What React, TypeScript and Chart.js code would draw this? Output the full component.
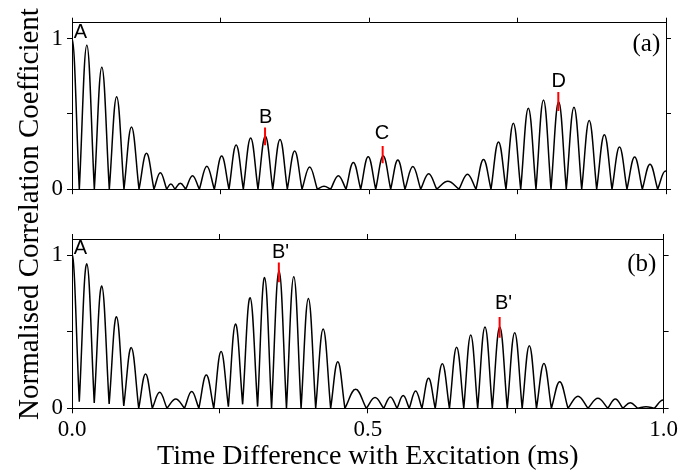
import React, { useEffect, useRef } from "react";
import { Chart, registerables } from "chart.js";

Chart.register(...registerables);

// ---------- axes ----------
const X_TICKS = [0, 0.25, 0.5, 0.75, 1.0];
const X_TICK_LABELS = ["0.0", "", "0.5", "", "1.0"];
const Y_TICKS = [0, 0.5, 1];
const Y_TICK_LABELS = ["0", "", "1"];
const X_TITLE = "Time Difference with Excitation (ms)";
const Y_TITLE = "Normalised Correlation Coefficient";

// ---------- panel (a) ----------
// zero crossings (ms) bounding each lobe
const zerosA = [
  -0.0123, 0.0123, 0.0376, 0.0628, 0.0875, 0.1128, 0.138, 0.1594, 0.1734, 0.1914,
  0.2144, 0.2396, 0.2643, 0.2884, 0.3131, 0.3379, 0.3625, 0.3872, 0.413, 0.4355,
  0.4613, 0.486, 0.5113, 0.5365, 0.5606, 0.587, 0.614, 0.6515, 0.6801, 0.7054,
  0.7306, 0.7554, 0.7811, 0.8064, 0.8321, 0.8581, 0.8833, 0.9091, 0.9343, 0.9601,
  0.986, 1.012,
];
// peak height of each lobe
const peaksA = [
  1.0, 0.956, 0.81, 0.614, 0.413, 0.238, 0.109, 0.035, 0.039, 0.09,
  0.153, 0.22, 0.293, 0.34, 0.352, 0.33, 0.253, 0.148, 0.02, 0.09,
  0.177, 0.216, 0.22, 0.194, 0.15, 0.103, 0.052, 0.1, 0.197, 0.314,
  0.437, 0.537, 0.592, 0.58, 0.544, 0.456, 0.362, 0.28, 0.214, 0.166,
  0.12,
];
const troughsA = zerosA.map(() => 0);

const labelTextA = ["A", "B", "C", "D"];
const labelXA = [0.0143, 0.326, 0.522, 0.8196];
const labelYA = [1.037, 0.476, 0.369, 0.718];
const markerXA = [0.325, 0.523, 0.8187];
const markerLoA = [0.292, 0.172, 0.519];
const markerHiA = [0.41, 0.286, 0.645];
const tagA = { text: "(a)", x: 0.967, y: 0.96 };

// ---------- panel (b) ----------
const zerosB = [
  -0.0123, 0.0123, 0.0376, 0.0628, 0.0875, 0.1128, 0.1358, 0.1605, 0.1902, 0.2144,
  0.2396, 0.2643, 0.2884, 0.3137, 0.3373, 0.3625, 0.3872, 0.4119, 0.4372, 0.4613,
  0.4975, 0.5269, 0.5494, 0.5701, 0.5915, 0.6139, 0.638, 0.6622, 0.6857, 0.7104,
  0.7357, 0.7609, 0.7851, 0.8103, 0.8384, 0.8721, 0.9057, 0.931, 0.9562, 0.9843,
  1.014,
];
const troughsB = [
  0, 0.043, 0.035, 0.028, 0.015, 0, 0, 0, 0, 0,
  0, 0.011, 0.026, 0.011, 0, 0, 0, 0, 0, 0,
  0, 0, 0, 0, 0, 0, 0, 0, 0, 0,
  0, 0, 0, 0, 0, 0, 0, 0, 0, 0,
  0,
];
const peaksB = [
  1.0, 0.943, 0.798, 0.598, 0.396, 0.224, 0.104, 0.061, 0.109, 0.217,
  0.37, 0.55, 0.722, 0.854, 0.898, 0.859, 0.717, 0.517, 0.304, 0.124,
  0.07, 0.074, 0.083, 0.113, 0.196, 0.291, 0.398, 0.478, 0.53, 0.53,
  0.493, 0.409, 0.293, 0.174, 0.078, 0.065, 0.061, 0.037, 0.01, 0.054,
];

const labelTextB = ["A", "B'", "B'"];
const labelXB = [0.0143, 0.3524, 0.7295];
const labelYB = [1.044, 1.016, 0.685];
const markerXB = [0.3496, 0.7228];
const markerLoB = [0.822, 0.461];
const markerHiB = [0.952, 0.596];
const tagB = { text: "(b)", x: 0.963, y: 0.94 };

// ---------- helpers ----------
const SERIF = "'Liberation Serif', 'Times New Roman', serif";
const SANS = "'Liberation Sans', Arial, sans-serif";

function buildCurve(zeros: number[], peaks: number[], troughs: number[]) {
  const pts: { x: number; y: number | null }[] = [];
  for (let i = 0; i < peaks.length; i++) {
    const x0 = zeros[i];
    const x1 = zeros[i + 1];
    pts.push({ x: x0, y: troughs[i] });
    pts.push({ x: (x0 + x1) / 2, y: peaks[i] });
    pts.push({ x: x1, y: troughs[i + 1] });
    pts.push({ x: x1, y: null });
  }
  return pts;
}

function textPlugin(items: { text: string; x: number; y: number; font: string }[]) {
  return {
    id: "panelText",
    afterDatasetsDraw(chart: any) {
      const { ctx } = chart;
      const xs = chart.scales.x;
      const ys = chart.scales.y;
      ctx.save();
      ctx.fillStyle = "#000";
      ctx.textAlign = "center";
      ctx.textBaseline = "middle";
      for (const it of items) {
        ctx.font = it.font;
        ctx.fillText(it.text, xs.getPixelForValue(it.x), ys.getPixelForValue(it.y));
      }
      ctx.restore();
    },
  };
}

function makeConfig(opts: {
  zeros: number[];
  peaks: number[];
  troughs: number[];
  markerX: number[];
  markerLo: number[];
  markerHi: number[];
  labelText: string[];
  labelX: number[];
  labelY: number[];
  tag: { text: string; x: number; y: number };
  bottomAxis: boolean;
  padTop: number;
  xHeight: number;
}) {
  const markerSets = opts.markerX.map((mx, i) => ({
    data: [
      { x: mx, y: opts.markerLo[i] },
      { x: mx, y: opts.markerHi[i] },
    ],
    borderColor: "#ff0000",
    borderWidth: 2,
    pointRadius: 0,
    tension: 0,
  }));
  const curve = {
    data: buildCurve(opts.zeros, opts.peaks, opts.troughs),
    borderColor: "#000",
    borderWidth: 1.5,
    pointRadius: 0,
    tension: 0.4,
    spanGaps: false,
  };
  const items = opts.labelText.map((t, i) => ({
    text: t,
    x: opts.labelX[i],
    y: opts.labelY[i],
    font: `20px ${SANS}`,
  }));
  items.push({ text: opts.tag.text, x: opts.tag.x, y: opts.tag.y, font: `25px ${SERIF}` });

  const frameGrid = {
    drawOnChartArea: false,
    drawTicks: true,
    tickLength: 5,
    color: "#000",
    lineWidth: 1,
  };
  const border = { display: true, color: "#000", width: 1 };
  const setX = (s: any) => {
    s.ticks = X_TICKS.map((v) => ({ value: v }));
  };
  const setY = (s: any) => {
    s.ticks = Y_TICKS.map((v) => ({ value: v }));
  };

  return {
    type: "line" as const,
    data: { datasets: [...markerSets, curve] },
    options: {
      responsive: false,
      maintainAspectRatio: false,
      animation: false as const,
      devicePixelRatio: 1,
      layout: { padding: { top: opts.padTop, right: 15, left: 0, bottom: 0 } },
      plugins: { legend: { display: false }, tooltip: { enabled: false } },
      elements: { line: { capBezierPoints: false } },
      scales: {
        x: {
          type: "linear" as const,
          position: "bottom" as const,
          min: 0,
          max: 1,
          afterBuildTicks: setX,
          afterFit: (s: any) => {
            s.height = opts.xHeight;
          },
          grid: frameGrid,
          border,
          ticks: {
            display: opts.bottomAxis,
            color: "#000",
            padding: 3,
            maxRotation: 0,
            autoSkip: false,
            font: { family: SERIF, size: 23 },
            callback: (_v: any, i: number) => X_TICK_LABELS[i],
          },
          title: {
            display: opts.bottomAxis,
            text: X_TITLE,
            color: "#000",
            font: { family: SERIF, size: 28 },
            padding: { top: 0, bottom: 0 },
          },
        },
        xTop: {
          type: "linear" as const,
          position: "top" as const,
          min: 0,
          max: 1,
          afterBuildTicks: setX,
          afterFit: (s: any) => {
            s.height = 0;
          },
          grid: frameGrid,
          border,
          ticks: { display: false },
        },
        y: {
          type: "linear" as const,
          position: "left" as const,
          min: 0,
          max: 1.105,
          afterBuildTicks: setY,
          afterFit: (s: any) => {
            s.width = 72;
          },
          grid: frameGrid,
          border,
          ticks: {
            color: "#000",
            padding: 4,
            autoSkip: false,
            font: { family: SERIF, size: 23 },
            callback: (_v: any, i: number) => Y_TICK_LABELS[i],
          },
        },
        yRight: {
          type: "linear" as const,
          position: "right" as const,
          min: 0,
          max: 1.105,
          afterBuildTicks: setY,
          afterFit: (s: any) => {
            s.width = 0;
          },
          grid: frameGrid,
          border,
          ticks: { display: false },
        },
      },
    },
    plugins: [textPlugin(items)],
  };
}

function Panel(props: { top: number; height: number; config: () => any }) {
  const ref = useRef<HTMLCanvasElement | null>(null);
  useEffect(() => {
    if (!ref.current) return;
    const chart = new Chart(ref.current, props.config());
    return () => chart.destroy();
  }, []);
  return (
    <canvas
      ref={ref}
      width={681}
      height={props.height}
      style={{ position: "absolute", left: 0, top: props.top, width: 681, height: props.height }}
    />
  );
}

export default function App() {
  return (
    <div
      style={{
        position: "fixed",
        left: 0,
        top: 0,
        width: 681,
        height: 473,
        background: "#fff",
        overflow: "hidden",
      }}
    >
      <Panel
        top={0}
        height={207}
        config={() =>
          makeConfig({
            zeros: zerosA,
            peaks: peaksA,
            troughs: troughsA,
            markerX: markerXA,
            markerLo: markerLoA,
            markerHi: markerHiA,
            labelText: labelTextA,
            labelX: labelXA,
            labelY: labelYA,
            tag: tagA,
            bottomAxis: false,
            padTop: 22.7,
            xHeight: 15,
          })
        }
      />
      <Panel
        top={210}
        height={263}
        config={() =>
          makeConfig({
            zeros: zerosB,
            peaks: peaksB,
            troughs: troughsB,
            markerX: markerXB,
            markerLo: markerLoB,
            markerHi: markerHiB,
            labelText: labelTextB,
            labelX: labelXB,
            labelY: labelYB,
            tag: tagB,
            bottomAxis: true,
            padTop: 29,
            xHeight: 64.7,
          })
        }
      />
      <div
        style={{
          position: "absolute",
          left: 27.5 - 250,
          top: 213.5 - 14,
          width: 500,
          height: 28,
          lineHeight: "28px",
          textAlign: "center",
          fontFamily: SERIF,
          fontSize: 29,
          color: "#000",
          whiteSpace: "nowrap",
          transform: "rotate(-90deg)",
          transformOrigin: "50% 50%",
        }}
      >
        {Y_TITLE}
      </div>
    </div>
  );
}
